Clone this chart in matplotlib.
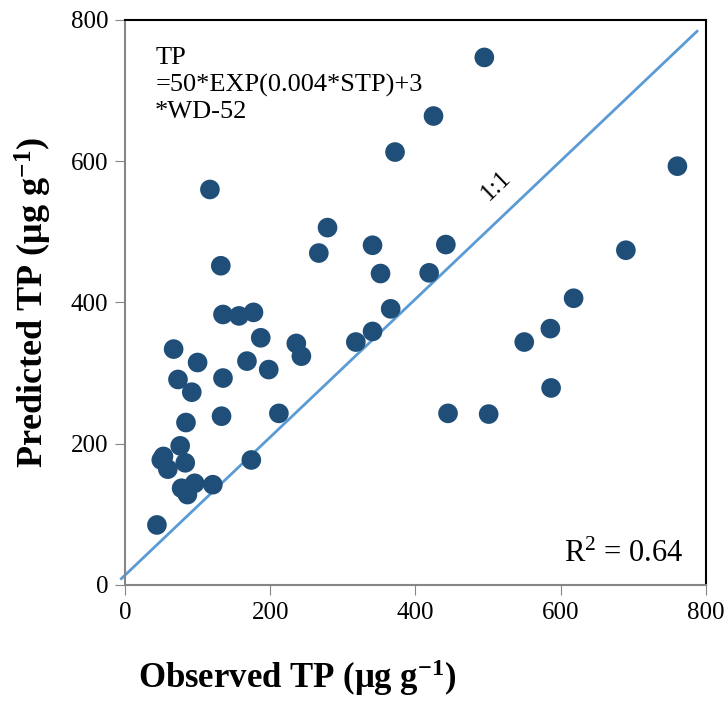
import numpy as np
import matplotlib
matplotlib.use('Agg')
import matplotlib.pyplot as plt

plt.rcParams['font.family'] = 'Liberation Serif'
plt.rcParams['mathtext.fontset'] = 'custom'
plt.rcParams['mathtext.rm'] = 'Liberation Serif'
plt.rcParams['mathtext.it'] = 'Liberation Serif:italic'
plt.rcParams['mathtext.bf'] = 'Liberation Serif:bold'

# observed vs predicted TP (ug/g)
observed = [495, 425, 372, 761, 117, 690, 618, 132, 279, 267, 341, 352, 442, 419,
            366, 586, 550, 587, 445, 501,
            135, 157, 177, 187, 67, 100, 168, 198, 236, 243, 318, 341,
            73, 135, 92, 84, 133, 212, 76, 53, 50, 59, 83, 174,
            78, 86, 96, 121, 44]
predicted = [747, 664, 613, 593, 560, 474, 406, 452, 506, 470, 481, 441, 482, 442,
             391, 363, 344, 279, 243, 242,
             383, 381, 386, 350, 334, 315, 317, 305, 342, 324, 344, 359,
             291, 293, 273, 230, 239, 243, 197, 182, 177, 164, 173, 177,
             137, 128, 144, 142, 85]

# 1:1 line as drawn in the original
line_x = [-5, 788]
line_y = [9, 784]

fig = plt.figure(figsize=(7.28, 7.01), dpi=100)
ax = fig.add_axes([0.1717, 0.1655, 0.7977, 0.806])

ax.plot(line_x, line_y, color='#5B9BD5', lw=2, zorder=2, clip_on=False)
ax.scatter(observed, predicted, s=200, color='#1F4E79', edgecolors='none', zorder=3)

ax.set_xlim(0, 800)
ax.set_ylim(0, 800)
ax.set_xticks([0, 200, 400, 600, 800])
ax.set_yticks([0, 200, 400, 600, 800])
ax.tick_params(direction='out', length=7, color='#868686', labelsize=18, pad=5)

for s in ['left', 'bottom']:
    ax.spines[s].set_color('#868686')
    ax.spines[s].set_linewidth(1.5)
for s in ['top', 'right']:
    ax.spines[s].set_color('black')
    ax.spines[s].set_linewidth(1.5)

ax.text(0.052, 0.952, 'TP\n=50*EXP(0.004*STP)+3\n*WD-52', transform=ax.transAxes,
        fontsize=19, va='top', ha='left', linespacing=1.25)
ax.text(511, 565, '1:1', rotation=44, fontsize=18, ha='center', va='center')
ax.text(0.961, 0.055, 'R$^2$ = 0.64', transform=ax.transAxes, fontsize=22,
        ha='right', va='center')

ax.set_xlabel(r'Observed TP (μg g$^{\mathbf{-1}}$)', fontsize=25, fontweight='bold')
ax.xaxis.set_label_coords(0.296, -0.128)
ax.set_ylabel(r'Predicted TP (μg g$^{\mathbf{-1}}$)', fontsize=26, fontweight='bold',
              labelpad=12)

fig.savefig('out.png', dpi=100)
